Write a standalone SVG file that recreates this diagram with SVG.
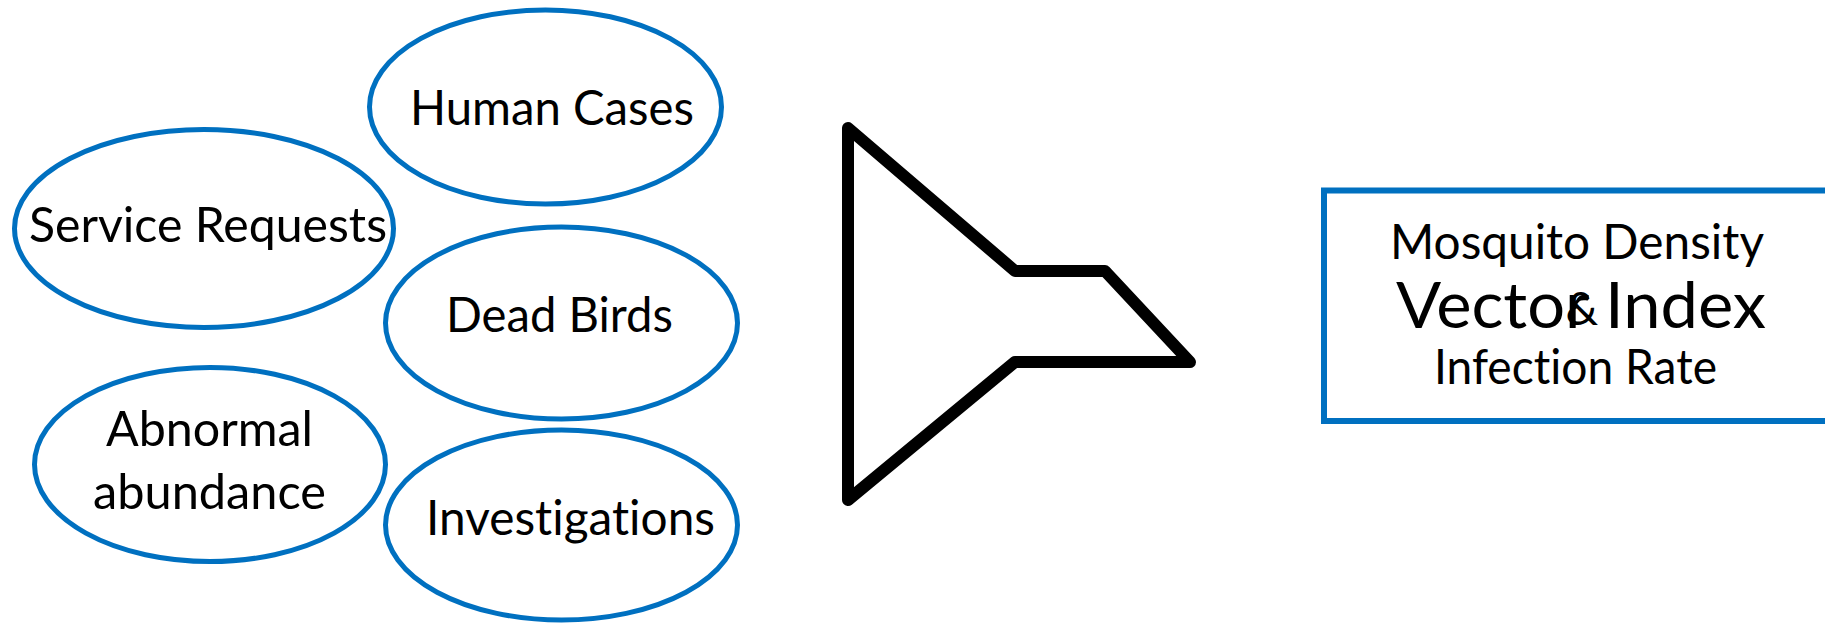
<svg xmlns="http://www.w3.org/2000/svg" width="1825" height="625" viewBox="0 0 1825 625">
  <style>
    .bubble { fill: #ffffff; stroke: #0070c0; stroke-width: 5; }
    .label { font-family: Lato, "Open Sans", "Liberation Sans", sans-serif; font-size: 48px; fill: #000000; text-anchor: middle; font-variant-ligatures: none; font-feature-settings: "liga" 0, "dlig" 0; }
    .big { font-size: 64px; }
    .small { font-size: 46px; }
    .box { fill: #ffffff; stroke: #0070c0; stroke-width: 6; }
    .funnel { fill: #ffffff; stroke: #000000; stroke-width: 12; stroke-linejoin: round; stroke-linecap: round; }
  </style>
  <rect width="1825" height="625" fill="#ffffff"/>

  <!-- input sources -->
  <g id="human-cases">
    <ellipse class="bubble" cx="545.5" cy="107" rx="176" ry="97"/>
    <text class="label" x="552" y="125" textLength="284" lengthAdjust="spacingAndGlyphs">Human Cases</text>
  </g>
  <g id="service-requests">
    <ellipse class="bubble" cx="204" cy="228.5" rx="189.5" ry="99"/>
    <text class="label" x="208" y="242" textLength="358" lengthAdjust="spacingAndGlyphs">Service Requests</text>
  </g>
  <g id="dead-birds">
    <ellipse class="bubble" cx="561.5" cy="323" rx="176" ry="96"/>
    <text class="label" x="559.5" y="332" textLength="227" lengthAdjust="spacingAndGlyphs">Dead Birds</text>
  </g>
  <g id="abnormal-abundance">
    <ellipse class="bubble" cx="210" cy="464.5" rx="175.5" ry="97"/>
    <text class="label" x="209.5" y="446" textLength="207" lengthAdjust="spacingAndGlyphs">Abnormal</text>
    <text class="label" x="209.5" y="509" textLength="233" lengthAdjust="spacingAndGlyphs">abundance</text>
  </g>
  <g id="investigations">
    <ellipse class="bubble" cx="561.5" cy="525" rx="176" ry="95"/>
    <text class="label" x="570.5" y="535" textLength="289" lengthAdjust="spacingAndGlyphs">Investigations</text>
  </g>

  <!-- funnel joining the sources into one output -->
  <g id="connectors">
    <path class="funnel" d="M 848 128 L 1015 271 L 1105 271 L 1190 362 L 1015 362 L 848 500 Z"/>
  </g>

  <!-- output -->
  <g id="vector-index">
    <rect class="box" x="1324" y="190.5" width="520" height="230.5"/>
    <text class="label" x="1577" y="259" textLength="374" lengthAdjust="spacingAndGlyphs">Mosquito Density</text>
    <text class="label big" x="1581" y="328" textLength="370" lengthAdjust="spacingAndGlyphs">Vector Index</text>
    <text class="label small" x="1582" y="325">&amp;</text>
    <text class="label" x="1575.5" y="384" textLength="283" lengthAdjust="spacingAndGlyphs">Infection Rate</text>
  </g>
</svg>
